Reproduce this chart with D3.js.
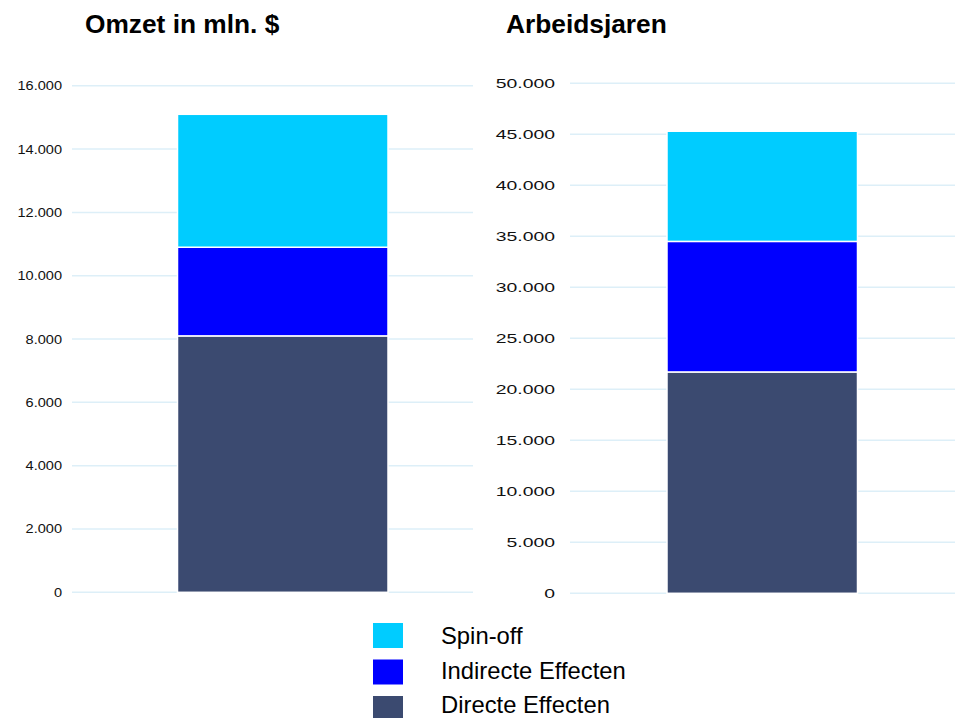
<!DOCTYPE html>
<html>
<head>
<meta charset="utf-8">
<script src="https://cdn.jsdelivr.net/npm/d3@7"></script>
<style>
  body { margin: 0; background: #fff; }
  svg { display: block; font-family: Arial, "Liberation Sans", sans-serif; }
</style>
</head>
<body>
<svg id="chart" width="955" height="718"></svg>
<script>
// Series (bottom to top in each stacked bar)
const seriesNames = ["Directe Effecten", "Indirecte Effecten", "Spin-off"];
const seriesColors = ["#3B4A70", "#0000FF", "#00CCFF"];

// Panel 1: turnover in millions of dollars
const omzetValues = [8100, 2800, 4200];
const omzetTicks = [0, 2000, 4000, 6000, 8000, 10000, 12000, 14000, 16000];

// Panel 2: man-years
const arbeidValues = [21700, 12800, 10800];
const arbeidTicks = [0, 5000, 10000, 15000, 20000, 25000, 30000, 35000, 40000, 45000, 50000];

const titles = ["Omzet in mln. $", "Arbeidsjaren"];

const svg = d3.select("#chart");
const fmt = v => d3.format(",")(v).replace(/,/g, ".");

function panel(cfg) {
  const g = svg.append("g");
  const y = d3.scaleLinear().domain([0, cfg.max]).range([cfg.y0, cfg.y1]);
  const x = d3.scaleBand().domain(["bar"]).range([cfg.bx0, cfg.bx1]).padding(0);

  // horizontal gridlines
  g.selectAll("line.grid").data(cfg.ticks).join("line")
    .attr("class", "grid")
    .attr("x1", cfg.gx0).attr("x2", cfg.gx1)
    .attr("y1", d => y(d)).attr("y2", d => y(d))
    .attr("stroke", "#DDEFF8").attr("stroke-width", 1.5);

  // tick labels
  g.selectAll("text.tick").data(cfg.ticks).join("text")
    .attr("class", "tick")
    .attr("text-anchor", "end")
    .attr("transform", d => `translate(${cfg.labelX},${y(d) + 4.5}) scale(${cfg.sx},1)`)
    .attr("font-size", cfg.fs)
    .attr("fill", "#111")
    .text(fmt);

  // stacked segments
  const stack = [];
  let acc = 0;
  cfg.values.forEach((v, i) => { stack.push({ lo: acc, hi: acc + v, i }); acc += v; });
  g.selectAll("rect.seg").data(stack).join("rect")
    .attr("class", "seg")
    .attr("x", x("bar"))
    .attr("width", x.bandwidth())
    .attr("y", d => y(d.hi))
    .attr("height", d => y(d.lo) - y(d.hi))
    .attr("fill", d => seriesColors[d.i])
    .attr("stroke", "#fff").attr("stroke-width", 1.5);

  svg.append("text")
    .attr("x", cfg.titleX).attr("y", 33)
    .attr("font-size", 26.3).attr("font-weight", "bold")
    .attr("fill", "#000")
    .text(cfg.title);
}

panel({ values: omzetValues, ticks: omzetTicks, max: 16000,
  y0: 592.3, y1: 85.8, gx0: 72, gx1: 473, bx0: 177.5, bx1: 388,
  labelX: 62, sx: 1.12, fs: 13, titleX: 85, title: titles[0] });

panel({ values: arbeidValues, ticks: arbeidTicks, max: 50000,
  y0: 593.3, y1: 83.3, gx0: 570, gx1: 955, bx0: 667, bx1: 857.5,
  labelX: 555, sx: 1.55, fs: 12.5, titleX: 506, title: titles[1] });

// legend (top entry first)
const legendItems = seriesNames.map((n, i) => ({ n, c: seriesColors[i] })).reverse();
const lg = svg.append("g");
lg.selectAll("rect").data(legendItems).join("rect")
  .attr("x", 373).attr("y", (d, i) => 623 + i * 36.5)
  .attr("width", 30).attr("height", 25)
  .attr("fill", d => d.c);
lg.selectAll("text").data(legendItems).join("text")
  .attr("x", 441).attr("y", (d, i) => 644 + i * 34.5)
  .attr("font-size", 23.8).attr("fill", "#000")
  .text(d => d.n);
</script>
</body>
</html>
